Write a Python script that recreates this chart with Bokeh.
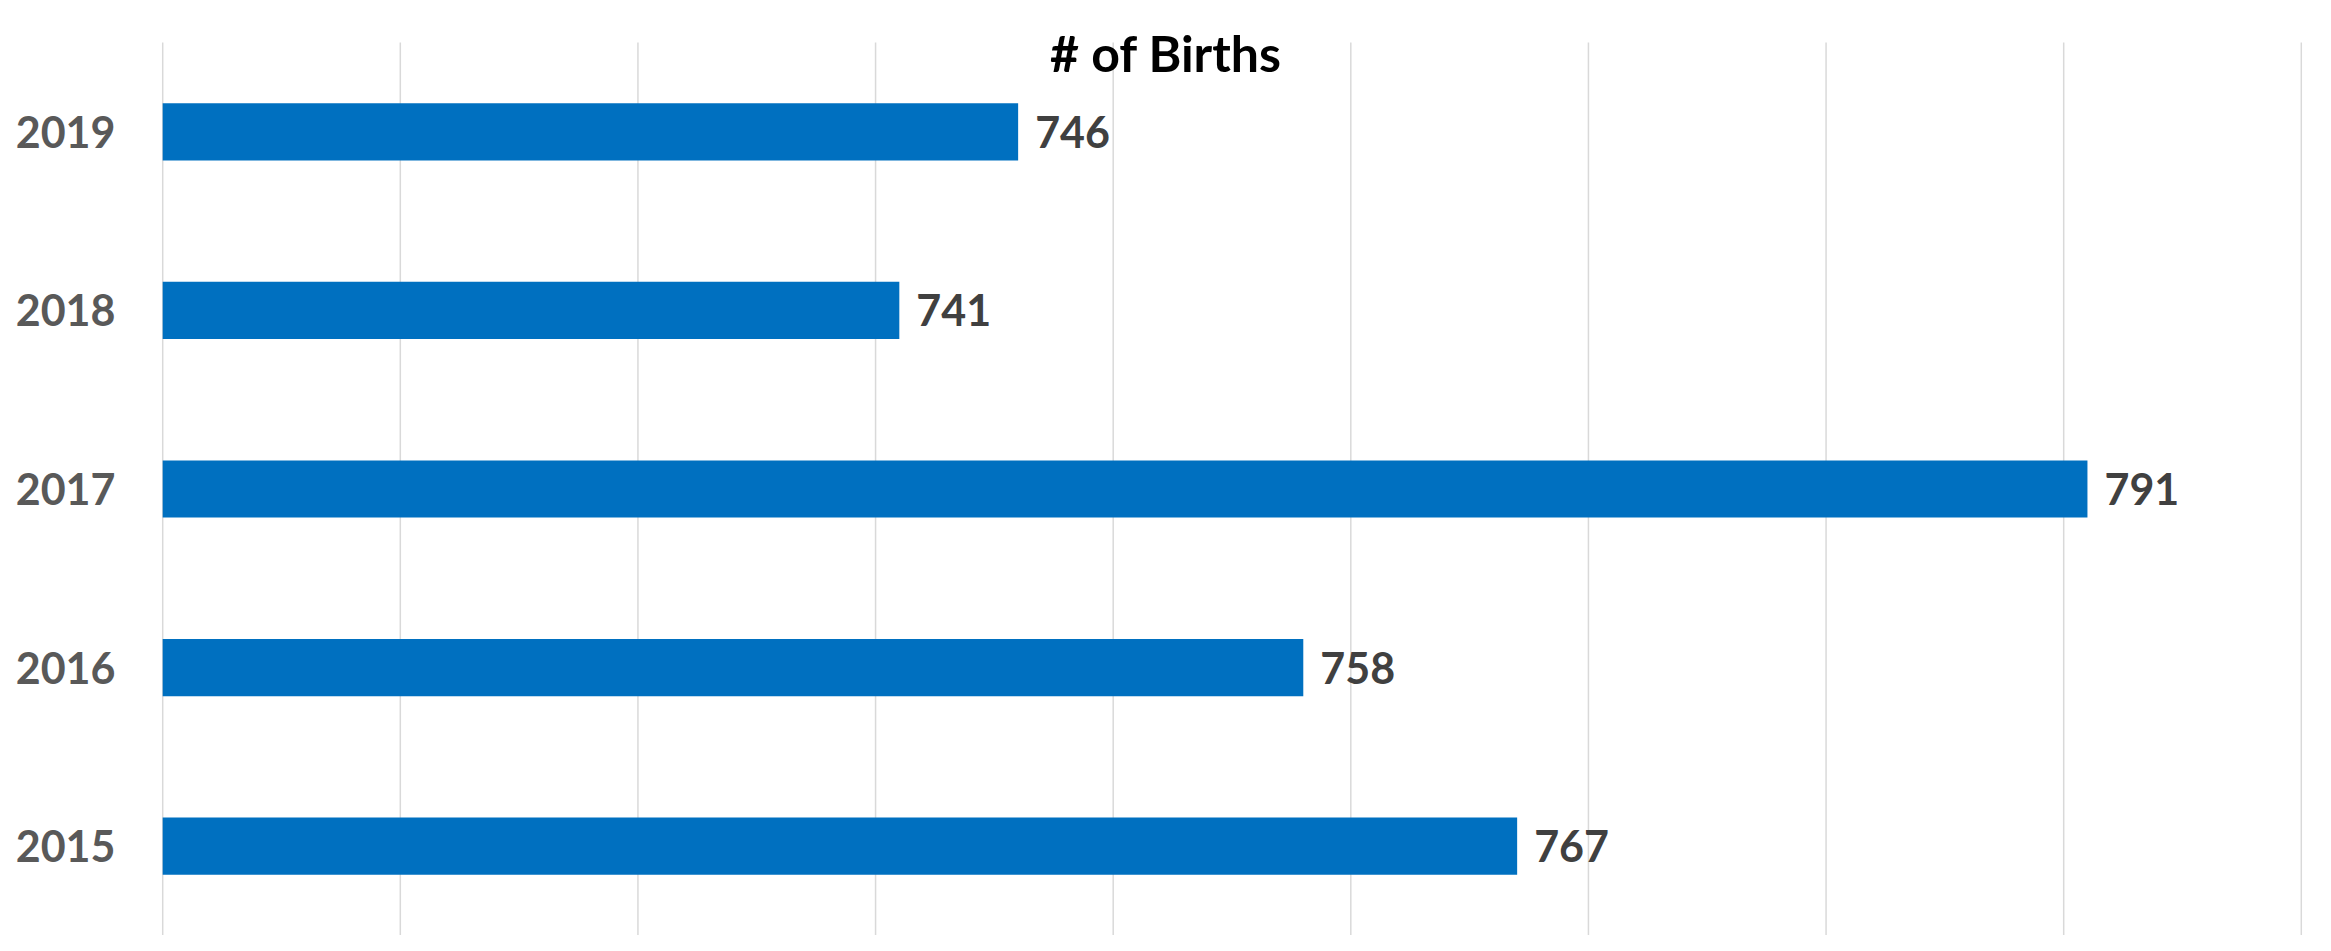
from bokeh.plotting import figure
from bokeh.models import Range1d, FixedTicker, ColumnDataSource, Label
from bokeh.core.properties import value
from bokeh.embed import file_html
from bokeh.resources import INLINE

# ---- data ----
years = ["2015", "2016", "2017", "2018", "2019"]
births = [767, 758, 791, 741, 746]
labels = ["767", "758", "791", "741", "746"]
x_min, x_max = 710, 800
grid_ticks = [710, 720, 730, 740, 750, 760, 770, 780, 790, 800]
title_text = "# of Births"

FONT = "Lato"
EPS = 0.05            # keeps the gridlines at both range ends fully visible
TOP_PX = 42           # blank strip above the category area (holds the title)
AREA_PX = 935 - TOP_PX
pitch_px = AREA_PX / len(years)

idx = list(range(len(years)))
src = ColumnDataSource(dict(idx=idx, births=births, label=labels))

p = figure(
    width=2315, height=935,
    x_range=Range1d(x_min - EPS, x_max + EPS),
    y_range=Range1d(-0.5, len(years) - 0.5 + TOP_PX / pitch_px),
    output_backend="svg", toolbar_location=None,
    min_border_left=161, min_border_right=13,
    min_border_top=0, min_border_bottom=0,
)
p.outline_line_color = None
p.background_fill_color = "white"
p.border_fill_color = "white"
p.xgrid.visible = False
p.ygrid.visible = False
p.xaxis.visible = False

# vertical gridlines spanning the category area only
p.segment(x0=grid_ticks, x1=grid_ticks,
          y0=[-0.5] * len(grid_ticks), y1=[len(years) - 0.5] * len(grid_ticks),
          line_color="#D9D9D9", line_width=1.5)

p.hbar(y="idx", right="births", left=x_min, height=0.32, source=src,
       fill_color="#0070C0", line_color=None)

p.text(x="births", y="idx", text="label", source=src,
       x_offset=17, text_align="left", text_baseline="middle",
       text_font=value(FONT), text_font_style="bold",
       text_font_size="43px", text_color="#404040")

# y axis with the year categories
yax = p.yaxis[0]
yax.ticker = FixedTicker(ticks=idx)
yax.major_label_overrides = {i: y for i, y in zip(idx, years)}
yax.axis_line_color = None
yax.major_tick_line_color = None
yax.minor_tick_line_color = None
yax.major_tick_out = 0
yax.major_tick_in = 0
yax.major_label_standoff = 46
yax.major_label_text_font = FONT
yax.major_label_text_font_style = "bold"
yax.major_label_text_font_size = "43px"
yax.major_label_text_color = "#595959"

# title, centred on the page width, 10px below the top of the category area
p.add_layout(Label(x=(x_min + x_max) / 2, y=len(years) - 0.5 - 10 / pitch_px,
                   x_offset=-66, text=title_text,
                   text_align="center", text_baseline="middle",
                   text_font=FONT, text_font_style="bold", text_font_size="50px",
                   text_color="#000000"))

open("out.html", "w").write(file_html(p, INLINE))
